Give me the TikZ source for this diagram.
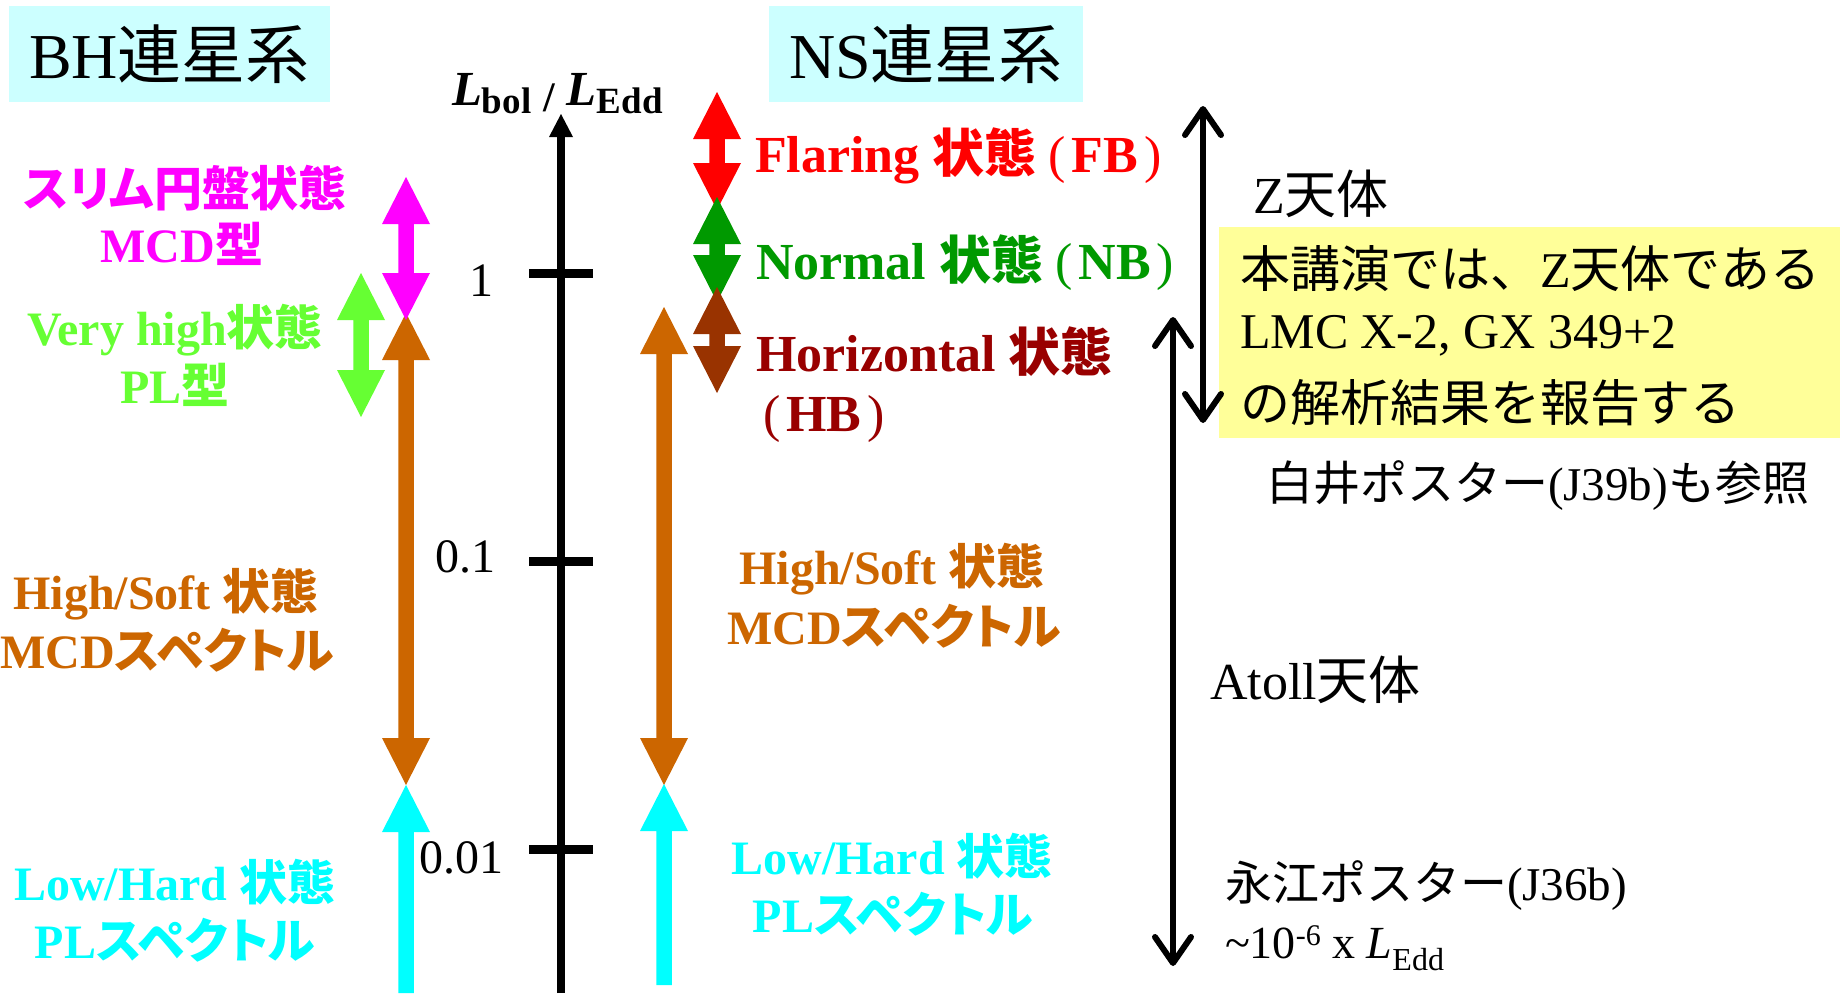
\documentclass[tikz,border=0pt]{standalone}
\usepackage{fontspec}
\setmainfont{Liberation Serif}
\newfontfamily\jp{Noto Sans CJK JP}
\newfontfamily\jpb{Noto Sans CJK JP Bold}[RawFeature=+palt]
\usetikzlibrary{arrows.meta}
\definecolor{boxcyan}{HTML}{CCFFFF}
\definecolor{boxyellow}{HTML}{FFFF99}
\definecolor{cmag}{HTML}{FF00FF}
\definecolor{cvh}{HTML}{66FF33}
\definecolor{corange}{HTML}{CC6600}
\definecolor{ccyan}{HTML}{00FFFF}
\definecolor{cred}{HTML}{FF0000}
\definecolor{cgreen}{HTML}{009900}
\definecolor{cbrown}{HTML}{993300}
\definecolor{chb}{HTML}{990000}
\newcommand\fs[1]{\fontsize{#1}{#1}\selectfont}
\newcommand\jb[1]{{\jpb #1}}
\newcommand\jr[1]{{\jp #1}}
\newcommand\pbox[1]{{\mdseries(}\hspace{6pt}#1\hspace{6pt}{\mdseries)}}
% up-down block arrow: colour, x, y of top tip, y of bottom tip
\newcommand\udarr[4]{\fill[#1,shift={(#2,0)}] (0,#3) -- (24,#3+47) -- (7.75,#3+47) -- (7.75,#4-47) -- (24,#4-47) -- (0,#4) -- (-24,#4-47) -- (-7.75,#4-47) -- (-7.75,#3+47) -- (-24,#3+47) -- cycle;}
% up block arrow: colour, x, y of tip, y of tail
\newcommand\uparr[4]{\fill[#1,shift={(#2,0)}] (0,#3) -- (24,#3+47) -- (7.75,#3+47) -- (7.75,#4) -- (-7.75,#4) -- (-7.75,#3+47) -- (-24,#3+47) -- cycle;}
\tikzset{
  lbl/.style={inner sep=0pt, outer sep=0pt},
  head/.style={lbl, font=\fs{64}},
  bhl/.style={lbl, font=\fs{48}\bfseries},
  nsl/.style={lbl, anchor=west, font=\fs{52}\bfseries},
  note/.style={lbl, anchor=west, font=\fs{50}},
  small/.style={lbl, anchor=west, font=\fs{47}},
  tickl/.style={lbl, font=\fs{48}},
  axisline/.style={line width=8pt, -{Triangle[length=23pt,width=24pt,line width=0pt]}},
  tickmark/.style={line width=9pt},
  thinarr/.style={line width=6pt, {Straight Barb[length=26pt,width=36pt,round]}-{Straight Barb[length=26pt,width=36pt,round]}}
}
\begin{document}
\begin{tikzpicture}[x=1pt,y=-1pt]
\path[use as bounding box, fill=white] (0,0) rectangle (1842,1001);

% header boxes
\node[head, fill=boxcyan, minimum width=321pt, minimum height=96pt] (bhbox) at (169.5,54) {BH\jr{連星系}};
\node[head, fill=boxcyan, minimum width=314pt, minimum height=96pt] (nsbox) at (926,54) {NS\jr{連星系}};
\node[lbl, fill=boxyellow, minimum width=621pt, minimum height=211pt] (ybox) at (1529.5,332.5) {};

% axis
\coordinate (axbot) at (561,993);
\coordinate (axtop) at (561,114);
\draw[axisline] (axbot) -- (axtop);
\coordinate (t1a) at (529,273); \coordinate (t1b) at (593,273);
\coordinate (t2a) at (529,561); \coordinate (t2b) at (593,561);
\coordinate (t3a) at (529,849); \coordinate (t3b) at (593,849);
\draw[tickmark] (t1a) -- (t1b);
\draw[tickmark] (t2a) -- (t2b);
\draw[tickmark] (t3a) -- (t3b);
\node[tickl] (v1) at (481,281) {1};
\node[tickl] (v2) at (465,557) {0.1};
\node[tickl] (v3) at (461,858) {0.01};
\node[lbl, anchor=base west] (axlabel) at (452,105) {\fs{49}\bfseries\itshape L\raisebox{-8pt}{\fs{37}\upshape bol\hspace{12pt}\raisebox{2pt}{\fs{42}/}\hspace{12pt}}L\raisebox{-8pt}{\fs{37}\upshape Edd}};

% BH arrows
\udarr{corange}{406}{313}{785}
\uparr{ccyan}{406}{785}{993}
\udarr{cvh}{361}{273}{417}
\udarr{cmag}{406}{177}{320}

% NS arrows
\udarr{corange}{664}{307}{785}
\uparr{ccyan}{664}{784}{985}
\udarr{cred}{717}{92}{210}
\udarr{cgreen}{717}{197}{302}
\udarr{cbrown}{717}{287}{393}

% thin black arrows
\coordinate (ztop) at (1203,106);
\coordinate (zbot) at (1203,423);
\draw[thinarr] (ztop) -- (zbot);
\coordinate (atop) at (1173,317);
\coordinate (abot) at (1173,966);
\draw[thinarr] (atop) -- (abot);

% BH labels
\node[bhl, text=cmag] (slim1) at (185,188) {\jb{スリム円盤状態}};
\node[bhl, text=cmag] (slim2) at (182,244) {MCD\jb{型}};
\node[bhl, text=cvh] (vh1) at (175,330) {Very high\jb{状態}};
\node[bhl, text=cvh] (vh2) at (175,385) {PL\jb{型}};
\node[bhl, text=corange] (hs1) at (166,594) {High/Soft \jb{状態}};
\node[bhl, text=corange] (hs2) at (167,650) {MCD\jb{スペクトル}};
\node[bhl, text=ccyan] (lh1) at (175,882) {Low/Hard \jb{状態}};
\node[bhl, text=ccyan] (lh2) at (175,940) {PL\jb{スペクトル}};

% NS labels
\node[nsl, text=cred] (fb) at (755,156) {Flaring \jb{状態}\hspace{12pt}\pbox{FB}};
\node[nsl, text=cgreen] (nb) at (756,263) {Normal \jb{状態}\hspace{12pt}\pbox{NB}};
\node[nsl, text=chb] (hb1) at (756,352) {Horizontal \jb{状態}};
\node[nsl, text=chb] (hb2) at (763,419) {\pbox{HB}};
\node[bhl, text=corange] (nhs1) at (892,569) {High/Soft \jb{状態}};
\node[bhl, text=corange] (nhs2) at (894,626) {MCD\jb{スペクトル}};
\node[bhl, text=ccyan] (nlh1) at (892,856) {Low/Hard \jb{状態}};
\node[bhl, text=ccyan] (nlh2) at (893,914) {PL\jb{スペクトル}};

% right-hand notes
\node[note, font=\fs{52}] (zsrc) at (1253,194) {Z\jr{天体}};
\node[note] (y1) at (1240,269) {\jr{本講演では、}Z\jr{天体である}};
\node[note] (y2) at (1240,336) {LMC X-2, GX 349+2};
\node[note] (y3) at (1240,403) {\jr{の解析結果を報告する}};
\node[small] (shirai) at (1266,486) {\jr{白井ポスター}(J39b)\jr{も参照}};
\node[note, font=\fs{52}] (atoll) at (1210,680) {Atoll\jr{天体}};
\node[small] (nagae) at (1225,886) {\jr{永江ポスター}(J36b)};
\node[lbl, anchor=base west, font=\fs{46}] (low) at (1225,958) {\textasciitilde 10\raisebox{13pt}{\fs{30}-6} x \textit{L}\raisebox{-12pt}{\fs{32}Edd}};
\end{tikzpicture}
\end{document}
